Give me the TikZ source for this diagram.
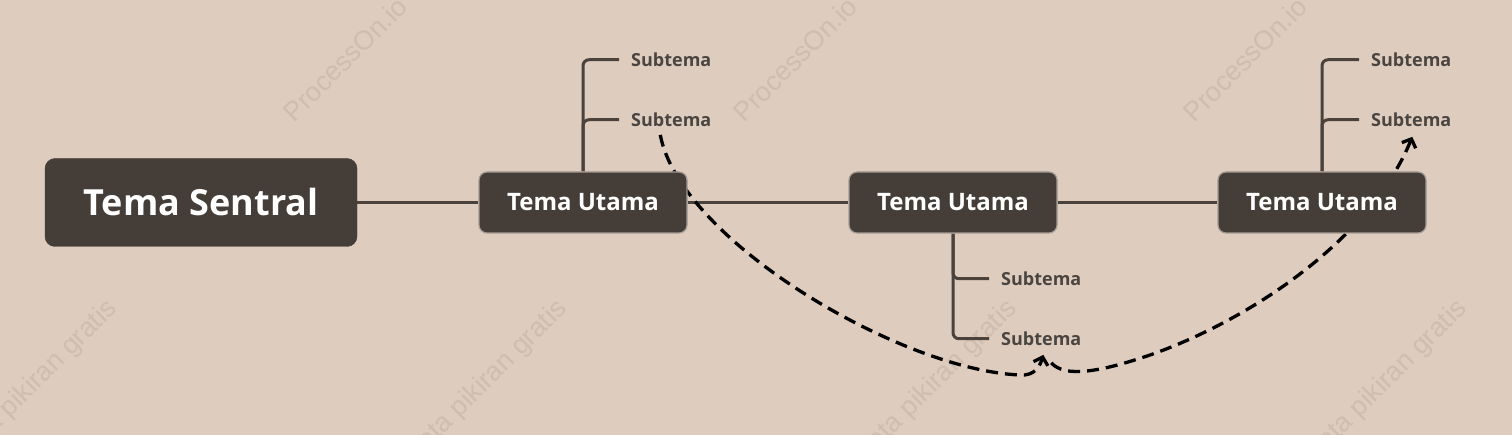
\documentclass[tikz,border=0pt]{standalone}
\usepackage{fontspec}
\setmainfont{Open Sans}
\newfontfamily\wmfont{Liberation Sans}
\usetikzlibrary{arrows.meta}
\pgfdeclarelayer{bglayer}
\pgfdeclarelayer{linklayer}
\pgfsetlayers{bglayer,linklayer,main}
\definecolor{bgc}{HTML}{DECCBE}
\definecolor{boxc}{HTML}{453D37}
\definecolor{linec}{HTML}{4A423B}
\definecolor{subc}{HTML}{4A4541}
\definecolor{wmc}{HTML}{CFBDB0}
\definecolor{edgec}{HTML}{A39B94}
\tikzset{
  centralbox/.style={fill=boxc, draw=boxc, rounded corners=10pt, minimum width=312pt, minimum height=88pt, inner sep=0pt, text=white, font=\bfseries\fontsize{36}{40}\selectfont},
  mainbox/.style={fill=boxc, draw=edgec, line width=1.2pt, rounded corners=8pt, minimum width=208pt, minimum height=61pt, inner sep=0pt, text=white, font=\bfseries\fontsize{24}{28}\selectfont},
  subtext/.style={anchor=base west, inner sep=0pt, text=subc, font=\bfseries\fontsize{18}{20}\selectfont},
  trunk/.style={draw=linec, line width=3pt},
  branch/.style={draw=linec, line width=3pt, rounded corners=6pt},
  relation/.style={draw=black, line width=3.3pt, dash pattern=on 12pt off 7pt, -{Straight Barb[length=7pt,width=15pt,line width=3.3pt]}},
  watermark/.style={text=wmc, font=\wmfont\fontsize{27}{30}\selectfont, rotate=45, inner sep=0pt}
}
\begin{document}
\begin{tikzpicture}[x=1pt,y=-1pt]
\useasboundingbox (0,0) rectangle (1512,435);
\begin{pgfonlayer}{bglayer}
\fill[bgc] (0,0) rectangle (1512,435);
\begin{scope}
\clip (0,0) rectangle (1512,435);
\node[watermark] (w1) at (345,59) {ProcessOn.io};
\node[watermark] (w2) at (795,59) {ProcessOn.io};
\node[watermark] (w3) at (1245,59) {ProcessOn.io};
\node[watermark, anchor=base east] (w4) at (118,310) {Peta pikiran gratis};
\node[watermark, anchor=base east] (w5) at (568,310) {Peta pikiran gratis};
\node[watermark, anchor=base east] (w6) at (1018,310) {Peta pikiran gratis};
\node[watermark, anchor=base east] (w7) at (1468,310) {Peta pikiran gratis};
\end{scope}
\end{pgfonlayer}

\node[centralbox] (ts) at (201,202.5) {Tema Sentral};
\node[mainbox] (tu1) at (583,202.5) {Tema Utama};
\node[mainbox] (tu2) at (953,202.5) {Tema Utama};
\node[mainbox] (tu3) at (1322,202.5) {Tema Utama};

\node[subtext] (s1a) at (631,66.5) {Subtema};
\node[subtext] (s1b) at (631,126.5) {Subtema};
\node[subtext] (s2a) at (1001,285.5) {Subtema};
\node[subtext] (s2b) at (1001,345.5) {Subtema};
\node[subtext] (s3a) at (1371,66.5) {Subtema};
\node[subtext] (s3b) at (1371,126.5) {Subtema};

\begin{pgfonlayer}{linklayer}
\draw[trunk] (ts.east) -- (tu1.west);
\draw[trunk] (tu1.east) -- (tu2.west);
\draw[trunk] (tu2.east) -- (tu3.west);

\draw[branch] (tu1.north) |- ([xshift=-12pt]s1a.west);
\draw[branch] (tu1.north) |- ([xshift=-12pt]s1b.west);
\draw[branch] (tu2.south) |- ([xshift=-12pt]s2a.west);
\draw[branch] (tu2.south) |- ([xshift=-12pt]s2b.west);
\draw[branch] (tu3.north) |- ([xshift=-12pt]s3a.west);
\draw[branch] (tu3.north) |- ([xshift=-12pt]s3b.west);

\draw[relation] ([xshift=-11pt,yshift=-8pt]s1b.south)
  .. controls (680,240) and (900,370) .. (1020,375)
  .. controls (1035,376) and (1040,366) .. ([xshift=2pt,yshift=-9pt]s2b.south);
\draw[relation] ([xshift=10pt,yshift=-17pt]s2b.south)
  .. controls (1065,378) and (1100,372) .. (1150,355)
  .. controls (1250,320) and (1370,240) .. ([xshift=1pt,yshift=-10pt]s3b.south);
\end{pgfonlayer}
\end{tikzpicture}
\end{document}
